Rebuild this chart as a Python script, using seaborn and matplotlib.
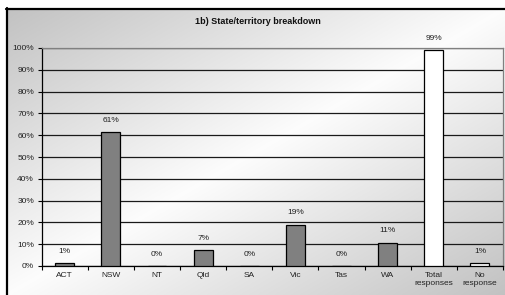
import numpy as np
import pandas as pd
import seaborn as sns
import matplotlib.pyplot as plt
from matplotlib.lines import Line2D
from matplotlib.ticker import FixedLocator, PercentFormatter

# data
categories = ['ACT', 'NSW', 'NT', 'Qld', 'SA', 'Vic', 'Tas', 'WA', 'Total\nresponses', 'No\nresponse']
values = [1.3, 61.3, 0, 7.3, 0, 18.9, 0, 10.7, 99, 1.2]
labels = ['1%', '61%', '0%', '7%', '0%', '19%', '0%', '11%', '99%', '1%']
colors = ['#808080'] * 8 + ['#ffffff', '#ffffff']

df = pd.DataFrame({'cat': categories, 'val': values})

sns.set_style('white')
plt.rcParams['font.family'] = ['Liberation Sans', 'DejaVu Sans']

W, H = 505, 295
fig = plt.figure(figsize=(W / 100, H / 100), dpi=100)

# diagonal grey-white-grey gradient inside the frame
bg = fig.add_axes([6.5 / W, 0, 1 - 6.5 / W, 1 - 8.5 / H], zorder=-10)
xx, yy = np.meshgrid(np.linspace(0, 1, 300), np.linspace(0, 1, 200))
t = (xx + yy) / 2
shade = 0.99 - 0.23 * np.abs(t - 0.5) * 2
bg.imshow(np.dstack([shade] * 3), extent=[0, 1, 0, 1], aspect='auto', origin='upper')
bg.set_axis_off()

# black frame on left and top
fig.add_artist(Line2D([6.5 / W, 6.5 / W], [0, 1 - 8 / H], color='black', lw=1.6, transform=fig.transFigure))
fig.add_artist(Line2D([6 / W, 1], [1 - 8.5 / H, 1 - 8.5 / H], color='black', lw=1.6, transform=fig.transFigure))

ax = fig.add_axes([41.7 / W, (H - 266) / H, (503 - 41.7) / W, (266 - 48) / H])
ax.patch.set_alpha(0)

sns.barplot(data=df, x='cat', y='val', hue='cat', palette=colors, legend=False,
            width=0.41, edgecolor='black', linewidth=0.9, saturation=1, ax=ax, zorder=3)

ax.set_ylim(0, 100)
ax.set_xlim(-0.5, len(categories) - 0.5)
ax.yaxis.set_major_locator(FixedLocator(np.arange(0, 101, 10)))
ax.yaxis.set_major_formatter(PercentFormatter(decimals=0))
ax.grid(axis='y', color='#1a1a1a', lw=0.9, zorder=1)
ax.set_axisbelow(True)

for s in ['top', 'right']:
    ax.spines[s].set_color('#808080')
    ax.spines[s].set_linewidth(0.9)
for s in ['left', 'bottom']:
    ax.spines[s].set_color('black')
    ax.spines[s].set_linewidth(0.9)

ax.set_xlabel('')
ax.set_ylabel('')
ax.tick_params(axis='y', direction='out', length=3, width=0.8, color='black',
               labelsize=6, labelcolor='#222222', pad=2.5, left=True)
ax.tick_params(axis='x', which='major', length=0, labelsize=6, labelcolor='#222222', pad=4)
ax.xaxis.set_minor_locator(FixedLocator(np.arange(-0.5, len(categories), 1)))
ax.tick_params(axis='x', which='minor', direction='out', length=3, width=0.8, color='black', bottom=True)

for i, (v, lab) in enumerate(zip(values, labels)):
    ax.annotate(lab, (i, v), xytext=(0, 12), textcoords='offset pixels',
                ha='center', va='center', fontsize=6, color='#222222')

fig.text(258 / W, 1 - 21 / H, '1b) State/territory breakdown', ha='center', va='center',
         fontsize=6.5, fontweight='bold', color='#111111')

fig.savefig('out.png', dpi=100)
